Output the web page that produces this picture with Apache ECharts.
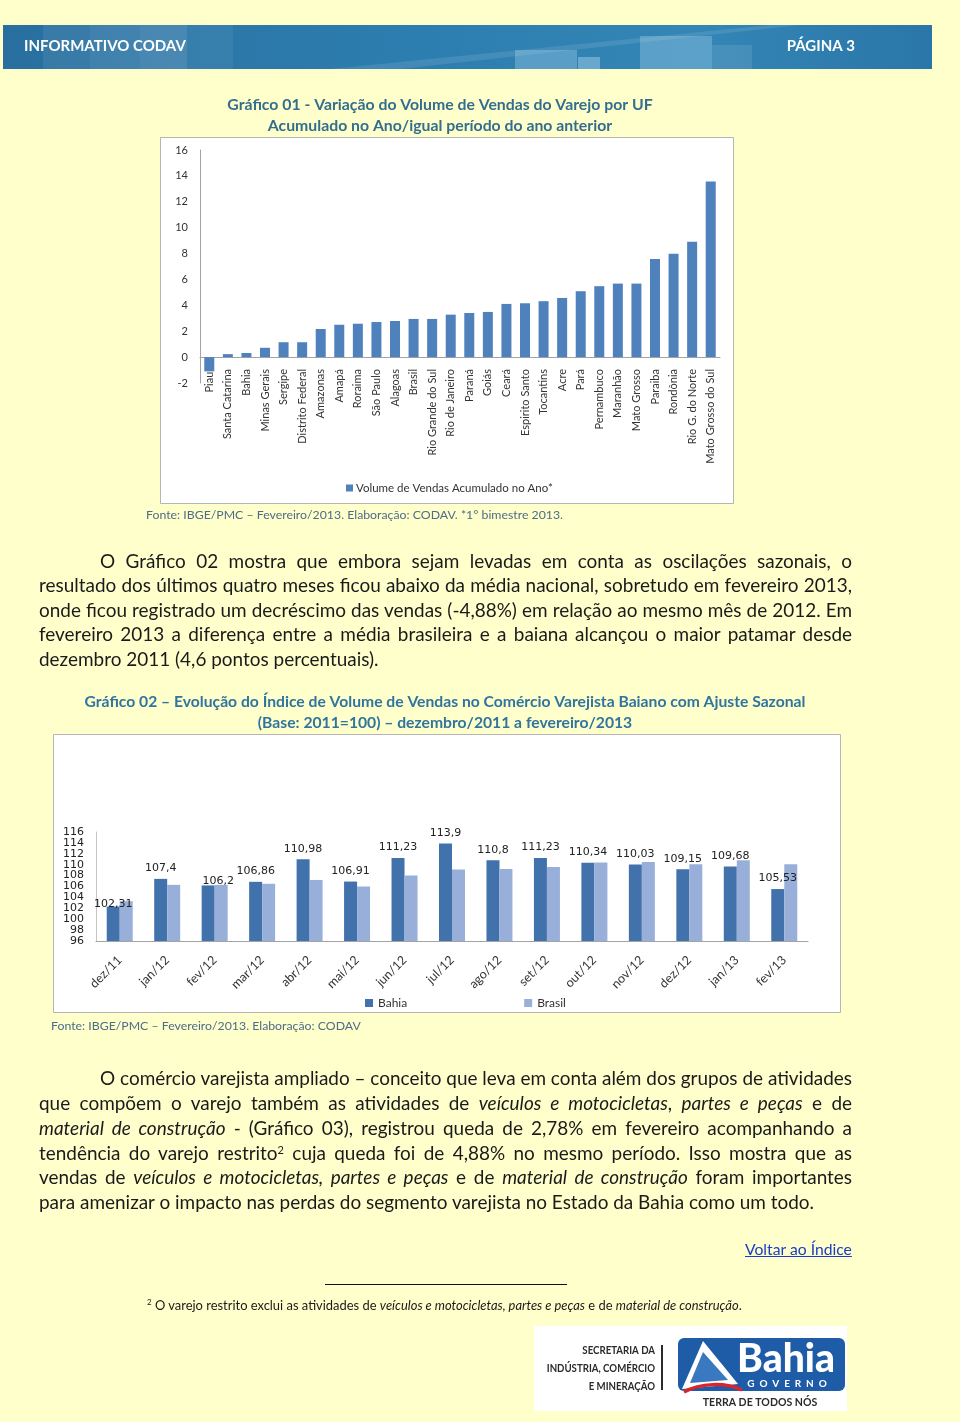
<!DOCTYPE html>
<html><head><meta charset="utf-8">
<script src="https://cdn.jsdelivr.net/npm/echarts@6/dist/echarts.min.js"></script>
<style>
html,body{margin:0;padding:0;background:#FFFFCC;}
#wrap{position:relative;width:960px;height:1422px;overflow:hidden;background:#FFFFCC;}
#chart{position:absolute;left:0;top:0;width:960px;height:1422px;}
.ln{position:absolute;font-family:Lato,"Open Sans",sans-serif;font-size:17px;line-height:24px;color:#1a1a1a;white-space:nowrap;}
.ln sup{font-size:11px;line-height:0;vertical-align:6px;}
.fn{position:absolute;font-family:Lato,"Open Sans",sans-serif;font-size:11.5px;line-height:16px;color:#1a1a1a;white-space:nowrap;}
.fn sup{font-size:8px;line-height:0;vertical-align:5px;}
a.lk{position:absolute;font-family:Lato,"Open Sans",sans-serif;font-size:17px;line-height:24px;color:#1a3cc8;text-decoration:underline;white-space:nowrap;}
</style></head><body>
<div id="wrap">
<div id="chart"></div>

<div class="ln body" data-w="752" style="left:100px;top:549px">O Gráfico 02 mostra que embora sejam levadas em conta as oscilações sazonais, o</div>
<div class="ln body" data-w="813" style="left:39px;top:573px">resultado dos últimos quatro meses ficou abaixo da média nacional, sobretudo em fevereiro 2013,</div>
<div class="ln body" data-w="813" style="left:39px;top:598px">onde ficou registrado um decréscimo das vendas (-4,88%) em relação ao mesmo mês de 2012. Em</div>
<div class="ln body" data-w="813" style="left:39px;top:622px">fevereiro 2013 a diferença entre a média brasileira e a baiana alcançou o maior patamar desde</div>
<div class="ln body" id="ref1" style="left:39px;top:647px">dezembro 2011 (4,6 pontos percentuais).</div>

<div class="ln body" data-w="752" style="left:100px;top:1066px">O comércio varejista ampliado – conceito que leva em conta além dos grupos de atividades</div>
<div class="ln body" data-w="813" style="left:39px;top:1091px">que compõem o varejo também as atividades de <i>veículos e motocicletas</i>, <i>partes e peças</i> e de</div>
<div class="ln body" data-w="813" style="left:39px;top:1116px"><i>material de construção</i> - (Gráfico 03), registrou queda de 2,78% em fevereiro acompanhando a</div>
<div class="ln body" data-w="813" style="left:39px;top:1141px">tendência do varejo restrito<sup>2</sup> cuja queda foi de 4,88% no mesmo período. Isso mostra que as</div>
<div class="ln body" data-w="813" style="left:39px;top:1165px">vendas de <i>veículos e motocicletas, partes e peças</i> e de <i>material de construção</i> foram importantes</div>
<div class="ln body" id="ref2" style="left:39px;top:1190px">para amenizar o impacto nas perdas do segmento varejista no Estado da Bahia como um todo.</div>

<a class="lk" id="lk1" style="left:745px;top:1237px">Voltar ao Índice</a>

<div class="fn" id="fn1" style="left:147px;top:1297px"><sup>2</sup> O varejo restrito exclui as atividades de <i>veículos e motocicletas, partes e peças</i> e de <i>material de construção</i>.</div>
</div>

<script>
// ---------- DATA ----------
const ufCategories = ['Piauí','Santa Catarina','Bahia','Minas Gerais','Sergipe','Distrito Federal','Amazonas','Amapá','Roraima','São Paulo','Alagoas','Brasil','Rio Grande do Sul','Rio de Janeiro','Paraná','Goiás','Ceará','Espirito Santo','Tocantins','Acre','Pará','Pernambuco','Maranhão','Mato Grosso','Paraiba','Rondônia','Rio G. do Norte','Mato Grosso do Sul'];
const ufValues = [-1.1, 0.23, 0.32, 0.72, 1.15, 1.15, 2.17, 2.5, 2.58, 2.71, 2.79, 2.95, 2.95, 3.28, 3.41, 3.49, 4.11, 4.16, 4.32, 4.57, 5.09, 5.48, 5.68, 5.68, 7.57, 7.98, 8.91, 13.57];
const ufSeriesName = 'Volume de Vendas Acumulado no Ano*';

const months = ['dez/11','jan/12','fev/12','mar/12','abr/12','mai/12','jun/12','jul/12','ago/12','set/12','out/12','nov/12','dez/12','jan/13','fev/13'];
const bahiaIndex = [102.31, 107.4, 106.2, 106.86, 110.98, 106.91, 111.23, 113.9, 110.8, 111.23, 110.34, 110.03, 109.15, 109.68, 105.53];
const brasilIndex = [103.3, 106.3, 106.3, 106.5, 107.2, 106.0, 108.0, 109.1, 109.2, 109.6, 110.4, 110.5, 110.1, 110.8, 110.1];

// ---------- STYLE ----------
const FONT = 'Lato, "Open Sans", sans-serif';
const TITLE_C = '#336E8E';
const NOTE_C = '#4D6C88';
const labelNudge = {0: [0, 8], 2: [10, 6]};

function txt(x, y, text, st, z, extra) {
  return Object.assign({type: 'text', x: x, y: y, z: z == null ? 10 : z,
    style: Object.assign({text: text, fill: '#333', fontFamily: FONT, fontSize: 12, align: 'left', verticalAlign: 'middle'}, st || {})}, extra || {});
}
function rect(x, y, w, h, st, z, r) {
  return {type: 'rect', z: z == null ? -1 : z, shape: {x: x, y: y, width: w, height: h, r: r || 0}, style: st};
}

const headerPanels = [[43,47,'rgba(255,255,255,0.07)'],[90,50,'rgba(255,255,255,0.11)'],[140,47,'rgba(255,255,255,0.14)'],[187,46,'rgba(255,255,255,0.06)']];
const logoTextStyle = {fill:'#2b2b2b', fontWeight:'bold', fontSize:11.5, align:'right'};

const graphics = [
  // header
  rect(3, 25, 929, 44, {fill: new echarts.graphic.LinearGradient(0,0,1,0,[{offset:0,color:'#286f9f'},{offset:0.45,color:'#2d7eb0'},{offset:0.75,color:'#3386b6'},{offset:1,color:'#2a76a8'}])}, -2),
  ...headerPanels.map(p => rect(p[0], 25, p[1], 44, {fill: p[2]}, -1)),
  {type:'polygon', z:-1, shape:{points:[[330,69],[770,25],[800,25],[400,69]]}, style:{fill:'rgba(255,255,255,0.10)'}},
  rect(515, 50, 62, 19, {fill:'rgba(190,225,245,0.30)'}, -1),
  rect(578, 57, 22, 12, {fill:'rgba(190,225,245,0.40)'}, -1),
  rect(640, 36, 72, 33, {fill:'rgba(190,225,245,0.30)'}, -1),
  rect(712, 45, 40, 24, {fill:'rgba(255,255,255,0.10)'}, -1),
  txt(24, 46, 'INFORMATIVO CODAV', {fill:'#fff', fontWeight:'bold', fontSize:15}),
  txt(855, 46, 'PÁGINA 3', {fill:'#fff', fontWeight:'bold', fontSize:15, align:'right'}),

  // chart 1 frame & texts
  txt(440, 105, 'Gráfico 01 - Variação do Volume de Vendas do Varejo por UF', {fill:TITLE_C, fontWeight:'bold', fontSize:15.8, align:'center'}),
  txt(440, 126, 'Acumulado no Ano/igual período do ano anterior', {fill:TITLE_C, fontWeight:'bold', fontSize:15.8, align:'center'}),
  rect(160.5, 137.5, 573, 366, {fill:'#ffffff', stroke:'#b5b5b5', lineWidth:1}, -1),
  txt(146, 515, 'Fonte: IBGE/PMC – Fevereiro/2013. Elaboração: CODAV. *1° bimestre 2013.', {fill:NOTE_C, fontSize:12.3}),

  // chart 2 frame & texts
  txt(445, 702, 'Gráfico 02 – Evolução do Índice de Volume de Vendas no Comércio Varejista Baiano com Ajuste Sazonal', {fill:'#2F75A0', fontWeight:'bold', fontSize:15.7, align:'center'}),
  txt(445, 723, '(Base: 2011=100) – dezembro/2011 a fevereiro/2013', {fill:'#2F75A0', fontWeight:'bold', fontSize:15.7, align:'center'}),
  rect(53.5, 734.5, 787, 278, {fill:'#ffffff', stroke:'#b5b5b5', lineWidth:1}, -1),
  txt(51, 1026, 'Fonte: IBGE/PMC – Fevereiro/2013. Elaboração: CODAV', {fill:NOTE_C, fontSize:12.3}),

  // footnote separator
  {type:'line', z:1, shape:{x1:325, y1:1284.5, x2:567, y2:1284.5}, style:{stroke:'#111', lineWidth:1}},

  // logo
  rect(534, 1326, 313, 85, {fill:'#ffffff'}, -1),
  txt(655, 1350, 'SECRETARIA DA', logoTextStyle, 10, {scaleX: 0.84}),
  txt(655, 1368, 'INDÚSTRIA, COMÉRCIO', logoTextStyle, 10, {scaleX: 0.84}),
  txt(655, 1386, 'E MINERAÇÃO', logoTextStyle, 10, {scaleX: 0.84}),
  rect(661, 1345, 2, 45, {fill:'#2b2b2b'}, 1),
  rect(678, 1338, 167, 53, {fill:'#1f5ca8'}, 0, 6),
  {type:'polygon', z:1, shape:{points:[[703,1341],[682,1389],[738,1384]]}, style:{fill:'#ffffff'}},
  {type:'polygon', z:2, shape:{points:[[703,1352],[690,1383],[728,1380]]}, style:{fill:'#3a78c0'}},
  {type:'bezierCurve', z:3, shape:{x1:684, y1:1392, x2:742, y2:1390, cpx1:700, cpy1:1383, cpx2:725, cpy2:1382}, style:{stroke:'#d8262c', lineWidth:3.5, fill:null}},
  txt(786, 1359, 'Bahia', {fill:'#ffffff', fontWeight:900, fontSize:39, align:'center'}, 3),
  txt(787, 1384, 'G  O  V  E  R  N  O', {fill:'#ffffff', fontWeight:'bold', fontSize:10, align:'center'}, 3),
  txt(760, 1402, 'TERRA DE TODOS NÓS', {fill:'#2b2b2b', fontWeight:'bold', fontSize:12, align:'center'}, 3, {scaleX: 0.88})
];

const bahiaData = bahiaIndex.map((v, i) => labelNudge[i] ? {value: v, label: {offset: labelNudge[i]}} : v);

const option = {
  animation: false,
  backgroundColor: '#FFFFCC',
  textStyle: {fontFamily: FONT},
  grid: [
    {left: 200, right: 240, top: 150, height: 233},
    {left: 96, right: 152, top: 832, height: 109}
  ],
  xAxis: [
    {gridIndex: 0, type: 'category', data: ufCategories,
      axisLine: {onZero: true, lineStyle: {color: '#a3a3a3'}}, axisTick: {show: false},
      axisLabel: {rotate: 90, interval: 0, margin: -14, fontSize: 11, color: '#333', fontFamily: FONT}},
    {gridIndex: 1, type: 'category', data: months,
      axisLine: {lineStyle: {color: '#a3a3a3'}}, axisTick: {show: false},
      axisLabel: {rotate: 45, interval: 0, margin: 17, fontSize: 12.5, color: '#333', fontFamily: FONT}}
  ],
  yAxis: [
    {gridIndex: 0, type: 'value', min: -2, max: 16, interval: 2,
      axisLine: {show: true, lineStyle: {color: '#a3a3a3'}}, axisTick: {show: false}, splitLine: {show: false},
      axisLabel: {margin: 12, fontSize: 11, color: '#333', fontFamily: FONT}},
    {gridIndex: 1, type: 'value', min: 96, max: 116, interval: 2,
      axisLine: {show: true, lineStyle: {color: '#c4c4c4'}}, axisTick: {show: false}, splitLine: {show: false},
      axisLabel: {margin: 12, fontSize: 11, lineHeight: 11, color: '#222', fontFamily: '"DejaVu Sans", sans-serif'}}
  ],
  legend: [
    {data: [ufSeriesName], left: 341, top: 477, icon: 'rect', itemWidth: 7, itemHeight: 7, itemGap: 10,
      textStyle: {fontSize: 11.5, color: '#333', fontFamily: FONT, padding: [0,0,0,-2]}},
    {data: ['Bahia', 'Brasil'], left: 360, top: 992, icon: 'rect', itemWidth: 8, itemHeight: 8, itemGap: 117,
      textStyle: {fontSize: 12, color: '#333', fontFamily: FONT}}
  ],
  series: [
    {name: ufSeriesName, type: 'bar', xAxisIndex: 0, yAxisIndex: 0, data: ufValues, barWidth: 10,
      itemStyle: {color: '#4F81BD'}},
    {name: 'Bahia', type: 'bar', xAxisIndex: 1, yAxisIndex: 1, data: bahiaData, barWidth: 13, barGap: '0%',
      itemStyle: {color: '#4272AC'},
      label: {show: true, position: 'top', distance: 5, fontSize: 11, color: '#222', fontFamily: '"DejaVu Sans", sans-serif',
        formatter: p => String(p.value).replace('.', ',')}},
    {name: 'Brasil', type: 'bar', xAxisIndex: 1, yAxisIndex: 1, data: brasilIndex, barWidth: 13, barGap: '0%',
      itemStyle: {color: '#98AFDA'}}
  ],
  graphic: {elements: graphics}
};

const chart = echarts.init(document.getElementById('chart'));
chart.setOption(option);

// ---------- text fitting (justified lines) ----------
function fitTo(el, base, target) {
  el.style.fontSize = base + 'px';
  const w = el.getBoundingClientRect().width;
  el.style.fontSize = (base * target / w) + 'px';
}
function fitText() {
  const bodies = document.querySelectorAll('.body');
  bodies.forEach(el => { el.style.fontSize = '17px'; el.style.wordSpacing = '0px'; });
  const r1 = document.getElementById('ref1').getBoundingClientRect().width;
  const r2 = document.getElementById('ref2').getBoundingClientRect().width;
  const scale = ((339 / r1) + (777 / r2)) / 2;
  const fs = 17 * scale;
  bodies.forEach(el => { el.style.fontSize = fs + 'px'; });
  document.querySelectorAll('.ln[data-w]').forEach(el => {
    const target = +el.dataset.w;
    const w = el.getBoundingClientRect().width;
    const n = (el.textContent.match(/ /g) || []).length;
    if (n) el.style.wordSpacing = ((target - w) / n) + 'px';
  });
  fitTo(document.getElementById('fn1'), 11.5, 596);
  fitTo(document.getElementById('lk1'), 17, 107);
}
fitText();
if (document.fonts && document.fonts.ready) document.fonts.ready.then(fitText);
</script>
</body></html>
